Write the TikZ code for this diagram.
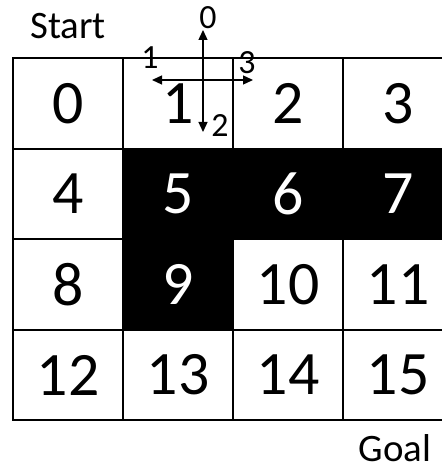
\documentclass[tikz,border=0pt]{standalone}
\usepackage{fontspec}
\setmainfont{Carlito}
\usetikzlibrary{arrows.meta,positioning}

\begin{document}
\begin{tikzpicture}[x=1bp, y=-1bp, >={Triangle[length=10bp,width=9bp]},
  cell/.style={draw, line width=1.6bp, minimum width=110bp, minimum height=90.5bp, inner sep=0pt, font=\fontsize{62}{62}\selectfont},
  wall/.style={cell, fill=black, text=white},
  tag/.style={inner sep=0pt, font=\fontsize{39}{39}\selectfont},
  act/.style={inner sep=0pt, font=\fontsize{34}{34}\selectfont}]
\useasboundingbox (0,0) rectangle (442,470);
% grid world, cells 0..15
\begin{scope}
\clip (0,0) rectangle (442,470);
\foreach \k/\s in {0/cell,1/cell,2/cell,3/cell,4/cell,5/wall,6/wall,7/wall,8/cell,9/wall,10/cell,11/cell,12/cell,13/cell,14/cell,15/cell} {
  \pgfmathsetmacro{\cx}{68+110*mod(\k,4)}
  \pgfmathsetmacro{\cy}{103.5+90.5*int(\k/4)}
  \node[\s] (cell\k) at (\cx,\cy) {\k};
}
\end{scope}
\node[tag, anchor=base] (start) at (68,39) {Start};
\node[tag, anchor=base] (goal) at (395,461) {Goal};
% action arrows
\coordinate (aN) at (203,30); \coordinate (aS) at (203,132);
\coordinate (aW) at (152,80); \coordinate (aE) at (253,80);
\draw[<->, line width=1.3bp] (aN) -- (aS);
\draw[<->, line width=1.3bp] (aW) -- (aE);
\node[act] (a0) at (208,17.5) {0};
\node[act] (a1) at (150,58) {1};
\node[act] (a2) at (220,126) {2};
\node[act] (a3) at (247,63) {3};
\end{tikzpicture}
\end{document}
